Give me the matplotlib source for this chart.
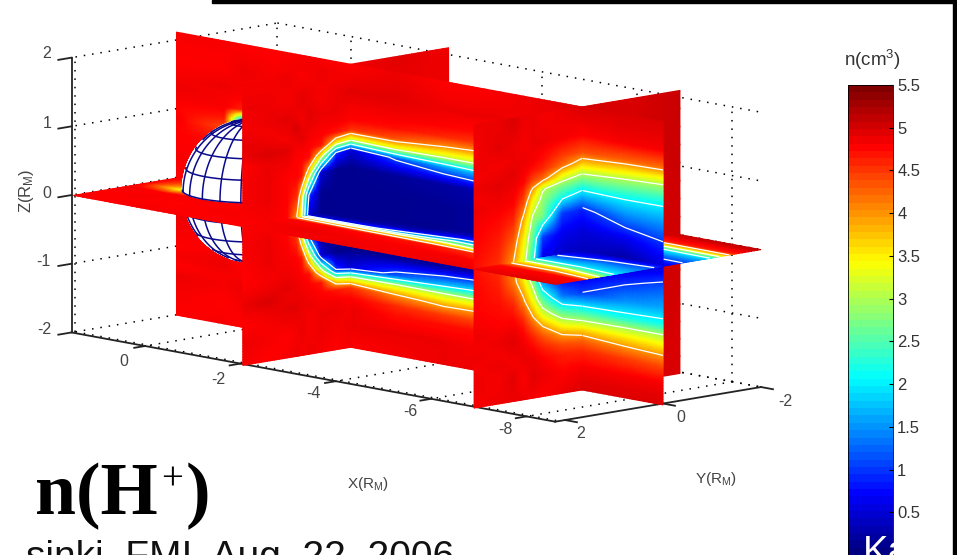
import numpy as np
import matplotlib
matplotlib.use('Agg')
import matplotlib.pyplot as plt
from matplotlib.cm import ScalarMappable
from matplotlib.colors import LinearSegmentedColormap, ListedColormap, Normalize
from matplotlib.patches import Rectangle

plt.rcParams['font.family'] = ['Liberation Sans', 'DejaVu Sans']
plt.rcParams['mathtext.fontset'] = 'custom'
plt.rcParams['mathtext.rm'] = 'Liberation Sans'
plt.rcParams['mathtext.it'] = 'Liberation Sans'
plt.rcParams['mathtext.default'] = 'rm'

# density n(H+), cm^-3
z_nodes = [-2.02, -1.7, -1.45, -1.3, -1.15, -1.0, -0.85, -0.6, -0.3, 0, 0.3, 0.6, 0.85, 1.0, 1.15, 1.3, 1.45, 1.7, 2.1]

# slice y=0, one column per x
xz_x = [1.6, 0.6, 0.2, -0.4, -1.2, -2.05, -3, -4, -4.7, -6, -6.9, -7.8, -8.6]
xz_cols = [
    [4.8, 4.85, 4.9, 4.8, 4.85, 4.8, 4.85, 4.9, 4.85, 4.8, 4.85, 4.8, 4.85, 4.8, 4.85, 4.9, 4.85, 4.8, 4.85],
    [4.85, 4.8, 4.85, 4.85, 4.9, 4.85, 4.8, 4.8, 4.8, 4.8, 4.8, 4.8, 4.4, 4.7, 4.85, 4.85, 4.9, 4.8, 4.85],
    [4.8, 4.85, 4.9, 4.85, 4.8, 4.75, 4.75, 4.8, 4.8, 4.8, 4.8, 4.5, 2, 1.5, 4.6, 4.8, 4.85, 4.9, 4.8],
    [4.85, 4.9, 4.85, 4.8, 4.85, 4.8, 4.8, 4.8, 4.8, 4.8, 4.8, 4.8, 4.8, 4.8, 4.8, 4.85, 4.9, 4.85, 4.8],
    [4.9, 4.85, 4.8, 4.85, 4.8, 4.8, 4.8, 4.8, 4.8, 4.8, 4.8, 4.8, 4.8, 4.8, 4.8, 4.8, 4.85, 4.9, 4.85],
    [4.8, 4.9, 4.9, 4.8, 4.55, 3.1, 0.5, 0.1, 0.1, 0.1, 0.1, 0.1, 0.45, 3.1, 4.55, 4.8, 4.85, 4.95, 4.8],
    [4.85, 4.9, 4.75, 4.6, 4.1, 3.2, 1.2, 0.15, 0.1, 0.1, 0.1, 0.15, 1.1, 3.3, 4.4, 4.75, 4.85, 4.95, 4.9],
    [4.9, 4.9, 4.75, 4.5, 3.9, 3.1, 1.7, 0.2, 0.12, 0.12, 0.12, 0.2, 1.5, 3.1, 4.0, 4.6, 4.8, 4.9, 4.8],
    [4.9, 4.85, 4.75, 4.45, 3.95, 3.1, 1.9, 0.3, 0.15, 0.15, 0.15, 0.25, 1.7, 3.1, 3.9, 4.5, 4.75, 4.9, 4.8],
    [4.9, 4.85, 4.65, 4.35, 3.8, 3.0, 2.1, 0.6, 0.3, 0.2, 0.3, 0.6, 1.5, 2.7, 3.5, 4.2, 4.6, 4.9, 4.9],
    [5, 4.85, 4.6, 4.3, 3.7, 2.95, 2.25, 1, 0.5, 0.35, 0.5, 0.85, 1.85, 2.5, 3.1, 3.8, 4.4, 4.8, 5],
    [5, 4.85, 4.5, 4.1, 3.6, 3, 2.2, 1.45, 0.85, 0.2, 0.6, 1.35, 1.95, 2.45, 2.95, 3.6, 4.3, 4.85, 5],
    [5, 4.85, 4.4, 4, 3.5, 3, 2.2, 1.6, 1.15, 0.5, 0.9, 1.45, 1.95, 2.35, 2.85, 3.5, 4.25, 4.85, 5],
]

# slice x=-2, y>0, one row per z
yz1_y = [0, 0.3, 0.6, 0.85, 1, 1.1, 1.3, 1.7, 2.2]
yz1_rows = [
    [4.85, 4.8, 4.85, 4.9, 4.85, 4.9, 4.85, 4.8, 4.85],
    [4.9, 4.85, 4.9, 4.85, 4.9, 4.85, 4.8, 4.85, 4.9],
    [4.85, 4.9, 4.9, 4.85, 4.9, 4.9, 4.9, 4.85, 4.8],
    [4.8, 4.85, 4.85, 4.9, 4.9, 4.95, 4.95, 4.9, 4.85],
    [4.55, 4.7, 4.8, 4.85, 4.9, 4.9, 4.9, 5, 4.9],
    [3.1, 3.5, 4.7, 4.8, 4.85, 4.9, 4.95, 4.9, 4.85],
    [0.45, 1, 3.5, 4.75, 4.8, 4.85, 4.9, 4.85, 4.8],
    [0.1, 0.1, 0.45, 3.5, 4.7, 4.8, 4.85, 4.9, 4.8],
    [0.1, 0.1, 0.1, 1, 3.5, 4.55, 4.8, 4.9, 4.85],
    [0.1, 0.1, 0.1, 0.45, 3.1, 4, 4.8, 4.85, 4.8],
    [0.1, 0.1, 0.1, 1, 3.5, 4.55, 4.8, 4.9, 4.85],
    [0.1, 0.1, 0.45, 3.5, 4.7, 4.8, 4.8, 4.9, 4.85],
    [0.45, 1, 3.5, 4.75, 4.8, 4.8, 4.9, 4.9, 4.8],
    [3.1, 3.5, 4.7, 4.8, 4.85, 4.85, 4.95, 5, 4.9],
    [4.55, 4.7, 4.8, 4.85, 4.95, 4.9, 4.85, 4.9, 4.95],
    [4.8, 4.85, 4.85, 4.9, 4.9, 5, 4.9, 4.85, 4.9],
    [4.85, 4.9, 4.9, 4.95, 4.85, 4.9, 4.95, 4.9, 4.85],
    [4.95, 4.9, 4.85, 4.9, 4.95, 4.9, 4.85, 4.9, 4.9],
    [4.8, 4.85, 4.9, 4.85, 4.8, 4.85, 4.9, 4.85, 4.85],
]

# slice x=-6.9, y>0, one column per y
yz2_y = [0, 0.4, 0.8, 1, 1.2, 1.4, 1.7, 2.2]
yz2_cols = [
    [5, 4.85, 4.6, 4.3, 3.7, 2.95, 2.25, 1, 0.5, 0.35, 0.5, 0.85, 1.85, 2.5, 3.1, 3.8, 4.4, 4.8, 5],
    [4.9, 4.8, 4.65, 4.4, 3.95, 3.3, 2.65, 1.35, 0.55, 0.4, 0.6, 1, 2.2, 2.7, 3.4, 4.2, 4.5, 4.85, 4.9],
    [4.8, 4.9, 4.8, 4.65, 4.4, 4, 3.4, 2.55, 1.3, 0.6, 1, 2.7, 2.85, 3.05, 4.2, 4.6, 4.75, 4.9, 4.85],
    [4.85, 4.95, 4.9, 4.8, 4.65, 4.4, 4.05, 3.4, 2.75, 2.2, 2.55, 2.9, 3.4, 3.85, 4.4, 4.7, 4.85, 4.9, 4.9],
    [4.9, 4.8, 4.9, 4.9, 4.85, 4.75, 4.6, 4.15, 3.6, 3.3, 3.5, 3.9, 4.4, 4.6, 4.8, 4.85, 4.9, 4.85, 4.9],
    [4.9, 4.95, 4.85, 4.9, 4.95, 4.9, 4.8, 4.6, 4.2, 4, 4.3, 4.6, 4.8, 4.85, 4.9, 4.95, 4.9, 4.9, 5],
    [4.9, 4.85, 4.9, 4.85, 4.9, 4.85, 4.8, 4.75, 4.65, 4.55, 4.65, 4.75, 4.85, 4.9, 4.95, 4.9, 4.85, 4.95, 4.9],
    [4.85, 4.9, 4.85, 4.9, 4.85, 4.9, 4.85, 4.8, 4.8, 4.75, 4.8, 4.85, 4.9, 4.85, 4.9, 4.85, 4.9, 4.85, 4.9],
]

# the far halves of the x slices, all plain red
far_y = [0, -1, -2]
far_z = [-2.02, 0, 2.1]
far1_rows = [[4.85, 4.9, 4.85], [4.8, 4.85, 4.9], [4.9, 4.95, 4.9]]
far2_rows = [[5.0, 5.05, 5.0], [5.0, 5.1, 5.05], [5.05, 5.0, 5.1]]

# slice z=0, one row per y
xy_y = [0, 0.3, 0.6, 0.85, 1, 1.1, 1.3, 1.7, 2.2]
xy_x = [-2.05, -3, -4, -5, -6, -6.9, -7.8, -8.6]
xy_rows = [
    [0.1, 0.1, 0.1, 0.12, 0.2, 0.35, 0.4, 0.7],
    [0.1, 0.1, 0.1, 0.3, 0.55, 0.6, 1.05, 1.2],
    [0.1, 0.15, 0.35, 0.95, 1.0, 1.2, 1.55, 1.5],
    [0.45, 0.7, 1.3, 2.4, 2.1, 1.7, 1.85, 1.8],
    [3.1, 3.0, 3.0, 3.2, 2.8, 2.2, 2.15, 2.0],
    [4.0, 3.9, 3.8, 3.7, 3.3, 2.7, 2.6, 2.3],
    [4.8, 4.8, 4.75, 4.7, 4.55, 3.6, 3.6, 3.0],
    [4.85, 4.9, 4.85, 4.85, 4.85, 4.75, 4.8, 4.75],
    [4.85, 4.85, 4.9, 4.85, 4.9, 4.9, 4.95, 4.95],
]

# z=0 in front of the planet, x>-2, y>0
xyl_x = [1.5, 0.75, 0, -1, -2.05]
xyl_y = [0, 0.75, 1.1, 1.5, 2.2]
xyl_rows = [
    [4.8, 4.8, 4.8, 4.8, 4.8],
    [4.85, 3.4, 4.8, 4.8, 4.8],
    [4.85, 4.8, 4.85, 4.8, 4.85],
    [4.8, 4.85, 4.8, 4.85, 4.85],
    [4.85, 4.8, 4.85, 4.8, 4.8],
]

# z=0 tail, y<0, x<-6.9
tail_y = [0, -0.3, -0.6, -0.85, -1, -1.2, -1.5, -2]
tail_x = [-6.9, -8.6]
tail_rows = [
    [0.5, 0.5],
    [0.8, 0.85],
    [1.2, 1.3],
    [1.7, 1.75],
    [2.0, 2.1],
    [3.2, 3.3],
    [4.65, 4.65],
    [5.1, 5.15],
]

x_ticks = [0, -2, -4, -6, -8]
y_ticks = [2, 0, -2]
y_walls = [2.12, 0, -2]
z_ticks = [2, 1, 0, -1, -2]
cbar_ticks = [0.5, 1, 1.5, 2, 2.5, 3, 3.5, 4, 4.5, 5, 5.5]
cbar_labels = ['0.5', '1', '1.5', '2', '2.5', '3', '3.5', '4', '4.5', '5', '5.5']
levels = [1, 2, 3, 4]

XMAX, XMIN, YMAX, YMIN, ZMIN, ZMAX = 1.54, -8.6, 2.2, -2, -2, 2
JET = [(0, (0, 0, 0.5)), (1 / 8, (0, 0, 1)), (3 / 8, (0, 1, 1)), (5 / 8, (1, 1, 0)), (7 / 8, (1, 0, 0)), (1, (0.5, 0, 0))]


def proj(x, y, z):
    # the matlab view is close to parallel, so a linear map does it
    x, y, z = np.asarray(x, float), np.asarray(y, float), np.asarray(z, float)
    sx = 145 - 47.7 * x - 49 * (y - 2.2)
    sy = 346 - 8.8 * x + 8.25 * (y - 2.2) - 68.7 * (z + 2)
    return sx, sy


def fine(nodes, n=8):
    idx = np.linspace(0, len(nodes) - 1, (len(nodes) - 1) * n + 1)
    return np.interp(idx, np.arange(len(nodes)), nodes)


def fine_vals(vals, n=8):
    vals = np.array(vals, float)
    out = np.array([fine(r, n) for r in vals])
    return np.array([fine(c, n) for c in out.T]).T


order = [10]


def sheet(ax, place, a, b, vals, lev=None):
    # a runs along the columns of vals, b along the rows
    A, B = np.meshgrid(fine(a), fine(b))
    px, py = proj(*place(A, B))
    order[0] += 1
    ax.pcolormesh(px, py, fine_vals(vals), shading='gouraud', cmap=cmap, norm=norm, zorder=order[0])
    if lev:
        A0, B0 = np.meshgrid(a, b)
        qx, qy = proj(*place(A0, B0))
        order[0] += 1
        ax.contour(qx, qy, np.array(vals, float), levels=lev, colors='white', linewidths=0.9, zorder=order[0])


def on_xz(x, z):
    return x, 0 * x, z


def on_xy(x, y):
    return x, y, 0 * x


def at_x(x0):
    return lambda y, z: (x0 + 0 * y, y, z)


def hemi(ax, lat0, lat1):
    # half of the planet on the viewer's side of y=0
    r = 1.03
    lon = np.radians(np.linspace(0, 180, 73))
    lat = np.radians(np.linspace(lat0, lat1, 37))
    LO, LA = np.meshgrid(lon, lat)
    sx, sy = proj(r * np.cos(LA) * np.cos(LO), r * np.cos(LA) * np.sin(LO), r * np.sin(LA))
    order[0] += 1
    ax.pcolormesh(sx, sy, np.zeros_like(sx), shading='gouraud', cmap=ListedColormap(['white']), zorder=order[0])
    view = np.array([-3366, 3277, 839.0])
    view = view / np.linalg.norm(view)
    order[0] += 1
    for lo in np.radians(np.arange(0, 181, 18)):
        la = np.radians(np.linspace(lat0, lat1, 60))
        nx, ny, nz = np.cos(la) * np.cos(lo), np.cos(la) * np.sin(lo), np.sin(la)
        vis = nx * view[0] + ny * view[1] + nz * view[2] > 0
        px, py = proj(r * nx, r * ny, r * nz)
        ax.plot(np.where(vis, px, np.nan), np.where(vis, py, np.nan), color='#0a0a8c', lw=1.1, zorder=order[0])
    for la in np.radians(np.arange(-90, 91, 18)):
        if la < np.radians(lat0) or la > np.radians(lat1):
            continue
        lo = np.radians(np.linspace(0, 180, 90))
        nx, ny, nz = np.cos(la) * np.cos(lo), np.cos(la) * np.sin(lo), np.sin(la) + 0 * lo
        vis = nx * view[0] + ny * view[1] + nz * view[2] > 0
        px, py = proj(r * nx, r * ny, r * nz)
        ax.plot(np.where(vis, px, np.nan), np.where(vis, py, np.nan), color='#0a0a8c', lw=1.1, zorder=order[0])


fig = plt.figure(figsize=(9.57, 5.55), dpi=100)
ax = fig.add_axes([0, 0, 1, 1])
ax.set_xlim(0, 957)
ax.set_ylim(555, 0)
ax.axis('off')

cmap = LinearSegmentedColormap.from_list('mjet', JET, N=256)
cmap_bar = LinearSegmentedColormap.from_list('mjet64', JET, N=64)
norm = Normalize(0, 5.5)

# box grid
dots = dict(color='black', lw=1.1, ls=(0, (1, 4.5)), zorder=1)


def seg(p, q, **kw):
    sx, sy = proj(*zip(p, q))
    ax.plot(sx, sy, **kw)


for z in z_ticks:
    seg((XMAX, y_walls[0], z), (XMAX, YMIN, z), **dots)
    seg((XMAX, YMIN, z), (XMIN, YMIN, z), **dots)
for x in x_ticks:
    seg((x, YMIN, ZMIN), (x, YMIN, ZMAX), **dots)
    seg((x, YMIN, ZMIN), (x, YMAX, ZMIN), **dots)
for y in y_walls:
    seg((XMAX, y, ZMIN), (XMAX, y, ZMAX), **dots)
    seg((XMAX, y, ZMIN), (XMIN, y, ZMIN), **dots)

# axes lines and ticks
line = dict(color='#222222', lw=1.3, zorder=2)
seg((XMAX, YMAX, ZMIN), (XMAX, YMAX, ZMAX), **line)
seg((XMAX, YMAX, ZMIN), (XMIN, YMAX, ZMIN), **line)
seg((XMIN, YMAX, ZMIN), (XMIN, YMIN, ZMIN), **line)
for z in z_ticks:
    seg((XMAX, YMAX, z), (XMAX, YMAX + 0.27, z), **line)
for x in x_ticks:
    seg((x, YMAX, ZMIN), (x, YMAX + 0.22, ZMIN), **line)
for y in y_ticks:
    seg((XMIN, y, ZMIN), (XMIN - 0.25, y, ZMIN), **line)

# slices, far to near
sheet(ax, at_x(-2.05), far_y, far_z, far1_rows)
sheet(ax, at_x(-6.9), far_y, far_z, far2_rows)
sheet(ax, on_xy, tail_x, tail_y, tail_rows, levels)

xz = np.array(xz_cols, float).T
yz1 = np.array(yz1_rows, float)
yz2 = np.array(yz2_cols, float).T
xy = np.array(xy_rows, float)
sheet(ax, on_xz, xz_x[:6], z_nodes, xz[:, :6])
hemi(ax, -90, 0)
sheet(ax, on_xy, xyl_x, xyl_y, xyl_rows)
hemi(ax, 0, 90)
sheet(ax, on_xz, xz_x[5:11], z_nodes, xz[:, 5:11], levels)
sheet(ax, at_x(-2.05), yz1_y, z_nodes, yz1, levels)
sheet(ax, on_xy, xy_x[:6], xy_y, xy[:, :6], levels)
sheet(ax, on_xz, xz_x[10:], z_nodes, xz[:, 10:], levels)
sheet(ax, at_x(-6.9), yz2_y, z_nodes, yz2, [2, 3, 4])
sheet(ax, on_xy, xy_x[5:], xy_y, xy[:, 5:], levels)

# tick labels
grey = '#444444'
for lab, px, py in zip(['2', '1', '0', '-1', '-2'], [47, 47, 47, 43, 44], [54, 124, 193, 262, 329]):
    ax.text(px, py, lab, fontsize=11.5, color=grey, ha='center', va='center')
for lab, px, py in zip(['0', '-2', '-4', '-6', '-8'], [124, 218, 313, 410, 505], [361, 379, 394, 412, 430]):
    ax.text(px, py, lab, fontsize=11.5, color=grey, ha='center', va='center')
for lab, px, py in zip(['2', '0', '-2'], [581, 681, 785], [434, 418, 401]):
    ax.text(px, py, lab, fontsize=11.5, color=grey, ha='center', va='center')
ax.text(26, 191, r'Z(R$_{\mathrm{M}}$)', fontsize=12, color=grey, rotation=90, ha='center', va='center')
ax.text(368, 484, r'X(R$_{\mathrm{M}}$)', fontsize=11, color=grey, ha='center', va='center')
ax.text(716, 479, r'Y(R$_{\mathrm{M}}$)', fontsize=11, color=grey, ha='center', va='center')

# title pieces
serif = ['Liberation Serif', 'DejaVu Serif']
ax.text(35, 514, 'n(H', fontsize=53, fontweight='bold', family=serif, color='black', va='baseline', zorder=100)
ax.text(172, 490, '+', fontsize=28, family=serif, color='black', ha='center', va='baseline', zorder=100)
ax.text(186, 514, ')', fontsize=53, fontweight='bold', family=serif, color='black', va='baseline', zorder=100)
ax.text(26, 568, 'sinki, FMI, Aug. 22, 2006', fontsize=28, color='#111111', va='baseline', zorder=100, clip_on=True)

# frame left over from the slide
ax.add_patch(Rectangle((212, 0), 745, 3, color='black', zorder=100))
ax.add_patch(Rectangle((953, 0), 4, 555, color='black', zorder=100))

# colorbar
cax = fig.add_axes([848 / 957, 0, 45 / 957, 470 / 555])
cb = fig.colorbar(ScalarMappable(norm=norm, cmap=cmap_bar), cax=cax, ticks=cbar_ticks)
cb.set_ticklabels(cbar_labels)
cb.ax.tick_params(direction='in', length=3, width=0.8, labelsize=12, labelcolor='#333333', pad=3, color='black')
cb.outline.set_linewidth(0.6)
fig.text(872 / 957, 1 - 60 / 555, r'n(cm$^{3}$)', fontsize=13.5, color='#333333', ha='center', va='center')
fig.text(863 / 957, 1 - 563 / 555, 'Ka', fontsize=27.5, color='white', va='baseline', zorder=200)

fig.savefig('out.png', dpi=100)
